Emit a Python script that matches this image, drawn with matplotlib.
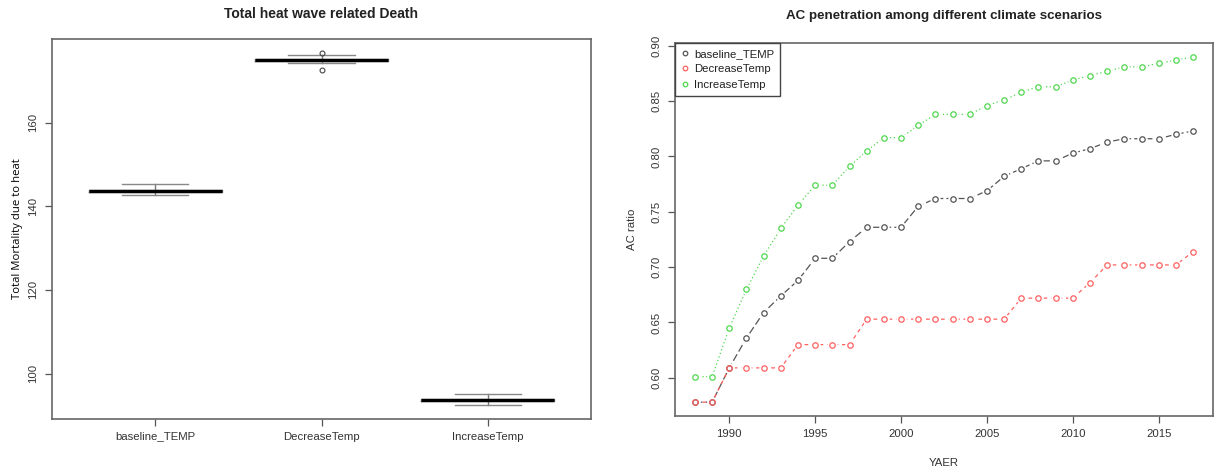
import matplotlib
matplotlib.use('Agg')
import matplotlib.pyplot as plt
from matplotlib.lines import Line2D

plt.rcParams['font.family'] = ['Liberation Sans', 'DejaVu Sans']
plt.rcParams['text.color'] = '#222222'
plt.rcParams['xtick.color'] = '#555555'
plt.rcParams['ytick.color'] = '#555555'
plt.rcParams['xtick.labelcolor'] = '#333333'
plt.rcParams['ytick.labelcolor'] = '#333333'

# boxplot summary of total heat related deaths per scenario
scenarios = ['baseline_TEMP', 'DecreaseTemp', 'IncreaseTemp']
med = [143.7, 175.0, 93.7]
q1 = [143.5, 174.8, 93.5]
q3 = [143.9, 175.2, 93.9]
whis_lo = [142.6, 174.2, 92.5]
whis_hi = [145.2, 176.1, 95.1]
outliers = [[], [176.6, 172.6], []]

# AC penetration ratio per year
years = list(range(1988, 2018))
baseline = [0.578, 0.578, 0.609, 0.636, 0.659, 0.674, 0.688, 0.708, 0.708, 0.723,
            0.736, 0.736, 0.736, 0.755, 0.762, 0.762, 0.762, 0.769, 0.782, 0.789,
            0.796, 0.796, 0.803, 0.807, 0.813, 0.816, 0.816, 0.816, 0.820, 0.823]
decrease = [0.578, 0.578, 0.609, 0.609, 0.609, 0.609, 0.630, 0.630, 0.630, 0.630,
            0.653, 0.653, 0.653, 0.653, 0.653, 0.653, 0.653, 0.653, 0.653, 0.672,
            0.672, 0.672, 0.672, 0.686, 0.702, 0.702, 0.702, 0.702, 0.702, 0.714]
increase = [0.601, 0.601, 0.645, 0.680, 0.710, 0.735, 0.756, 0.774, 0.774, 0.791,
            0.805, 0.817, 0.817, 0.828, 0.838, 0.838, 0.838, 0.846, 0.851, 0.858,
            0.863, 0.863, 0.869, 0.873, 0.877, 0.881, 0.881, 0.884, 0.887, 0.890]

fig = plt.figure(figsize=(12.15, 4.69), dpi=100)

# ---------- left: boxplot ----------
ax1 = fig.add_axes([52/1215, 1-419/469, 539/1215, 380/469])
stats = []
for i in range(len(scenarios)):
    stats.append({'med': med[i], 'q1': q1[i], 'q3': q3[i],
                  'whislo': whis_lo[i], 'whishi': whis_hi[i],
                  'fliers': outliers[i], 'label': scenarios[i]})
ax1.bxp(stats, positions=[1, 2, 3], widths=0.8, showfliers=True,
        boxprops=dict(color='#777777', lw=1),
        medianprops=dict(color='black', lw=2.4),
        whiskerprops=dict(color='#777777', lw=1),
        capprops=dict(color='#888888', lw=1),
        flierprops=dict(marker='o', mfc='none', mec='#444444', ms=3.5, mew=0.8))
lo = min(whis_lo + [v for f in outliers for v in f])
hi = max(whis_hi + [v for f in outliers for v in f])
pad = (hi - lo) * 0.04
ax1.set_ylim(lo - pad, hi + pad)
ax1.set_xlim(0.5 - 0.12, 3.5 + 0.12)
ax1.set_yticks([100, 120, 140, 160])
ax1.set_ylabel('Total Mortality due to heat', family=['Open Sans', 'DejaVu Sans'],
               fontsize=8.2, color='black', labelpad=4)
fig.text((52 + 539/2)/1215, 1-14/469, 'Total heat wave related Death',
         ha='center', va='center', fontsize=10, fontweight='bold')

# ---------- right: line chart ----------
ax2 = fig.add_axes([675/1215, 1-416/469, 538/1215, 373/469])
series = [(baseline, '#555555', (0, (6, 2.5)), 'baseline_TEMP'),
          (decrease, '#ff6060', (0, (3, 3)), 'DecreaseTemp'),
          (increase, '#4fd84f', (0, (1, 2)), 'IncreaseTemp')]
handles = []
for vals, col, ls, lab in series:
    ax2.plot(years, vals, color=col, ls=ls, lw=0.9, zorder=2)
    ax2.plot(years, vals, ls='none', marker='o', ms=6.5, mfc='white', mec='white', zorder=3)
    ax2.plot(years, vals, ls='none', marker='o', ms=3.9, mfc='none', mec=col, mew=0.9, zorder=4)
    handles.append(Line2D([], [], ls='none', marker='o', ms=3.3, mfc='none', mec=col,
                          mew=0.9, label=lab))
allv = baseline + decrease + increase
pad = (max(allv) - min(allv)) * 0.04
ax2.set_ylim(min(allv) - pad, max(allv) + pad)
xpad = (years[-1] - years[0]) * 0.04
ax2.set_xlim(years[0] - xpad, years[-1] + xpad)
ax2.set_xticks([1990, 1995, 2000, 2005, 2010, 2015])
ax2.set_yticks([0.60, 0.65, 0.70, 0.75, 0.80, 0.85, 0.90])
ax2.set_yticklabels(['0.60', '0.65', '0.70', '0.75', '0.80', '0.85', '0.90'])
ax2.set_xlabel('YAER', fontsize=8.2, color='#333333', labelpad=14)
ax2.set_ylabel('AC ratio', fontsize=8.2, color='#333333', labelpad=10)
leg = ax2.legend(handles=handles, loc='upper left', borderaxespad=0, fontsize=8.2,
                 fancybox=False, edgecolor='#444444', framealpha=1,
                 handlelength=0.6, handletextpad=0.5, labelspacing=0.45, borderpad=0.55)
leg.get_frame().set_linewidth(1)
fig.text((675 + 538/2)/1215, 1-16/469, 'AC penetration among different climate scenarios',
         ha='center', va='center', fontsize=9.6, fontweight='bold')

for ax in (ax1, ax2):
    for s in ax.spines.values():
        s.set_color('#666666')
        s.set_linewidth(1.2)
    ax.tick_params(length=5, width=0.9, labelsize=8.2, pad=4)
    ax.tick_params(axis='y', labelrotation=90, pad=5)
    for t in ax.get_yticklabels():
        t.set_va('center')

fig.savefig('out.png', dpi=100)
